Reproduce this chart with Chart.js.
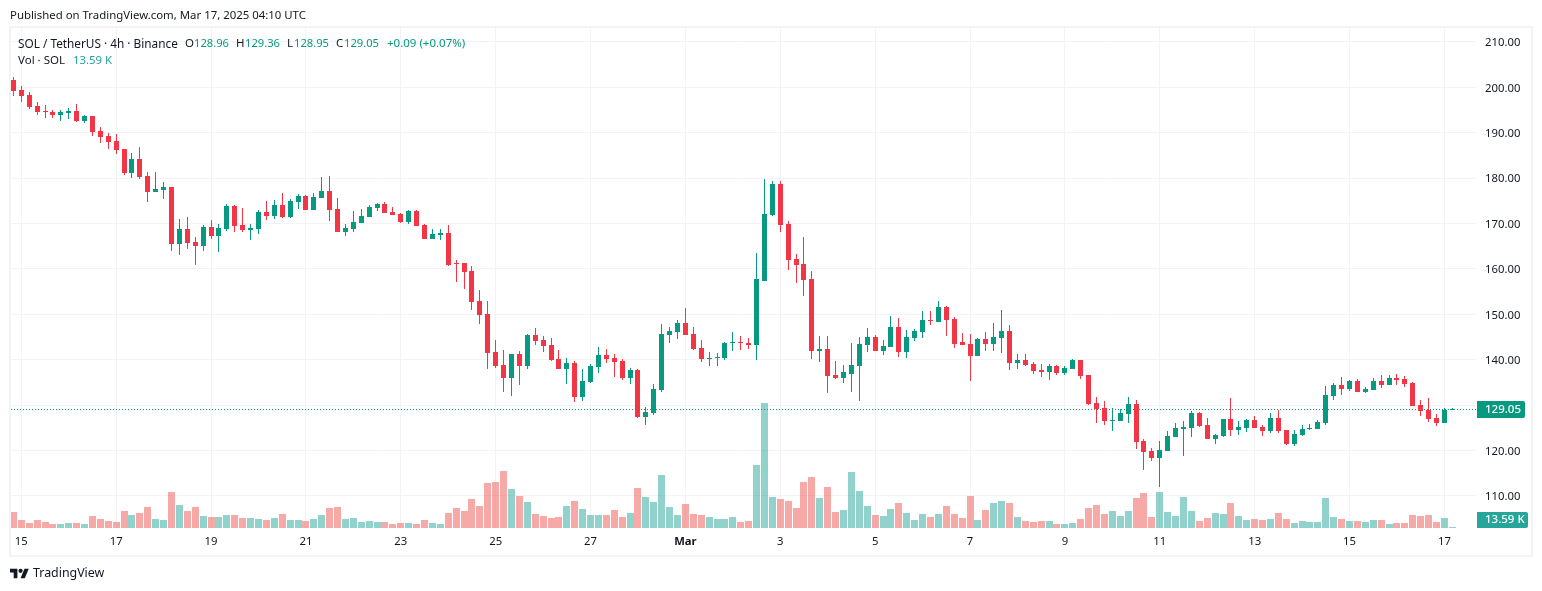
<!DOCTYPE html>
<html>
<head>
<meta charset="utf-8">
<title>SOL / TetherUS</title>
<script src="https://cdn.jsdelivr.net/npm/chart.js@4/dist/chart.umd.min.js"></script>
<style>
  html, body { margin: 0; padding: 0; background: #fff; }
  body { width: 1542px; height: 591px; position: relative; overflow: hidden; font-family: "Noto Sans", sans-serif; font-size: 11.5px; color: #131722; }
  #frame { position: absolute; left: 9px; top: 26px; width: 1520px; height: 527px; border: 2px solid #f2f3f5; }
  canvas { position: absolute; left: 0; top: 0; }
  .txt { position: absolute; white-space: nowrap; line-height: 16px; }
  .up { color: #089981; font-size: 11.2px; }
  .vol { color: #26a69a; font-size: 11.4px; }
  #logo { position: absolute; left: 10px; top: 568px; }
</style>
</head>
<body>
<div id="frame"></div>
<canvas id="chart" width="1542" height="591"></canvas>

<div class="txt" style="left:10px;top:7px;font-size:11.4px">Published on TradingView.com, Mar 17, 2025 04:10 UTC</div>
<div class="txt" style="left:18px;top:35px;font-size:11.8px">SOL / TetherUS · 4h · Binance</div>
<div class="txt" style="left:185px;top:35px">O</div><div class="txt up" style="left:194px;top:35px">128.96</div>
<div class="txt" style="left:236px;top:35px">H</div><div class="txt up" style="left:245px;top:35px">129.36</div>
<div class="txt" style="left:287px;top:35px">L</div><div class="txt up" style="left:294px;top:35px">128.95</div>
<div class="txt" style="left:336px;top:35px">C</div><div class="txt up" style="left:344px;top:35px">129.05</div>
<div class="txt up" style="left:387px;top:35px;font-size:11.5px">+0.09 (+0.07%)</div>
<div class="txt" style="left:18px;top:52px">Vol · SOL</div>
<div class="txt vol" style="left:73px;top:52px">13.59 K</div>

<svg id="logo" width="19" height="11" viewBox="0 4 36 18"><path fill="#131722" d="M14 22H7V11H0V4h14v18zM28 22h-8l7.5-18h8L28 22z"/><circle fill="#131722" cx="20" cy="8" r="4"/></svg>
<div class="txt" style="left:33px;top:565px;font-size:12.4px">TradingView</div>

<script>
// 4h candles, first one is Feb 14 20:00
var opens = [
  201.61,199.41,198.31,195.9,194.8,194.58,193.92,194.36,194.8,192.6,
  193.7,190.4,189.3,188.2,186.44,181.16,184.24,180.5,176.98,177.42,
  178.08,165.55,168.85,165.99,165.11,169.29,167.31,168.85,173.91,169.73,
  168.63,168.85,172.59,171.71,174.13,171.49,174.78,176.1,173.03,175.66,
  177.2,173.25,168.19,168.85,170.17,171.49,173.47,174.34,172.59,172.15,
  170.39,172.81,169.73,166.65,167.53,167.97,161.23,161.23,159.46,152.83,
  150.17,141.77,138.9,136.02,141.33,138.68,145.53,144.43,143.32,140.22,
  138.01,139.34,131.82,135.14,138.46,141.11,140.45,139.78,136.02,137.79,
  127.4,128.29,133.37,145.53,146.2,148.18,145.75,142.66,140.22,140.45,
  140.45,143.76,143.98,143.76,143.32,157.42,171.94,178.75,169.96,162.26,
  161.16,157.86,141.81,142.25,136.53,135.87,136.75,138.51,143.13,144.89,
  141.81,142.69,147.31,141.59,144.67,146.21,148.85,148.41,151.71,149.07,
  143.79,143.35,140.71,144.45,143.35,144.67,146.43,139.17,139.83,138.95,
  137.63,137.19,138.51,136.97,137.87,139.85,136.55,130.37,129.27,126.4,
  126.4,127.95,130.15,121.99,119.79,118.24,119.79,122.87,124.64,124.86,
  128.17,125.52,122.43,123.09,126.84,124.42,124.86,126.62,125.08,124.2,
  127.06,124.42,121.33,123.32,124.64,124.64,125.96,131.91,134.34,133.46,
  135.22,132.8,133.24,135.22,134.34,135.88,135.66,134.78,129.93,128.83,
  127.06,125.96,128.96
];
var highs = [
  202.27,200.29,198.97,196.77,196.11,195.02,195.02,195.46,196.34,193.92,
  193.7,191.28,189.96,189.74,186.44,185.56,186.88,181.38,181.38,179.18,
  178.08,171.05,171.49,167.09,169.73,170.83,169.95,174.34,174.13,173.47,
  169.95,173.03,175.0,175.22,176.76,175.44,176.54,176.32,176.76,180.28,
  180.5,175.66,169.95,172.81,173.25,174.13,174.56,174.78,173.69,172.37,
  173.03,173.03,169.95,168.85,168.85,169.73,161.89,161.23,160.57,155.26,
  152.83,144.43,142.21,141.33,141.99,145.75,147.08,145.31,144.87,142.21,
  140.45,139.78,138.01,139.12,142.88,142.44,141.33,140.22,138.24,138.01,
  129.61,134.7,147.96,147.3,148.85,151.28,147.3,144.43,141.77,141.55,
  143.98,146.2,145.31,144.87,163.44,179.85,179.41,179.41,170.62,163.36,
  167.1,159.62,145.11,145.11,139.61,138.73,143.57,144.89,147.09,145.55,
  144.23,149.73,149.29,146.65,146.87,150.83,150.83,153.03,151.93,149.51,
  145.99,145.77,144.67,146.21,148.19,151.05,147.75,141.15,141.15,139.39,
  138.95,138.95,138.73,138.51,140.07,139.85,136.55,131.69,130.81,129.27,
  129.05,131.69,131.03,122.43,120.45,121.99,124.2,125.96,126.4,128.61,
  128.39,127.06,123.54,126.84,131.47,126.4,126.84,127.5,125.52,128.17,
  128.83,124.42,124.42,125.52,125.74,126.62,134.12,134.78,136.1,135.44,
  135.66,133.9,135.88,136.55,136.55,136.77,136.33,135.0,131.03,131.47,
  127.95,129.27,129.36
];
var lows = [
  198.09,196.77,195.24,193.92,193.26,193.26,192.6,193.04,192.38,192.16,
  189.3,187.76,186.44,185.34,180.72,180.06,179.84,174.78,176.98,175.44,
  164.01,163.13,164.45,160.93,164.01,166.65,163.79,168.41,168.19,168.19,
  166.43,167.75,170.83,171.05,171.27,171.27,173.25,173.03,173.03,175.66,
  170.61,168.19,167.31,168.19,170.17,171.49,172.81,172.37,171.93,170.17,
  169.95,169.51,166.65,166.65,166.43,160.71,157.03,155.48,150.84,147.96,
  138.01,138.24,132.93,132.04,134.48,138.01,143.32,141.77,139.78,138.01,
  134.7,130.72,130.94,134.92,137.13,139.34,136.25,135.58,134.7,127.18,
  125.63,127.84,132.93,143.76,144.65,145.53,142.21,139.56,138.68,138.68,
  140.0,141.99,142.21,142.44,140.0,157.42,171.72,168.2,159.84,156.98,
  154.13,140.05,139.39,132.57,135.65,134.77,132.79,130.82,141.59,141.81,
  140.93,142.69,140.49,140.27,144.01,144.67,147.75,148.41,145.11,142.47,
  143.13,135.21,140.71,141.81,141.81,141.37,137.63,137.85,138.51,136.75,
  136.09,135.43,136.53,136.53,137.87,135.66,129.93,125.96,125.52,124.2,
  126.4,125.96,120.23,115.6,117.58,112.07,119.79,122.87,118.69,122.87,
  125.08,122.43,121.33,122.87,123.09,123.32,123.98,124.86,123.09,123.76,
  123.76,121.11,120.89,123.09,124.42,124.64,125.52,131.03,132.14,133.02,
  132.8,132.58,133.24,133.68,134.34,134.34,133.9,129.71,127.5,126.18,
  125.3,125.96,128.95
];
var closes = [
  199.19,198.09,195.68,194.58,194.58,193.92,194.58,194.8,192.6,193.7,
  190.18,189.08,187.98,186.22,181.16,184.24,180.28,176.98,177.64,178.08,
  165.55,168.85,165.77,165.11,169.29,167.31,169.07,173.91,169.51,168.63,
  169.07,172.59,171.71,174.13,171.49,175.0,176.1,173.03,175.88,177.2,
  173.03,168.19,169.07,170.39,171.71,173.69,174.34,172.37,171.93,170.39,
  172.81,169.51,166.65,167.75,167.97,160.93,161.01,159.24,152.61,149.95,
  141.55,138.68,136.02,141.33,138.68,145.53,144.2,143.1,140.0,138.01,
  139.34,131.82,135.36,138.68,141.11,140.22,139.56,136.02,137.79,127.4,
  128.51,133.59,145.75,146.42,148.18,145.53,142.44,140.22,140.45,140.67,
  143.76,143.98,143.76,143.32,157.69,172.16,178.75,169.74,162.04,160.94,
  157.64,141.81,142.25,136.31,135.87,137.19,138.73,143.35,144.89,141.81,
  142.91,147.31,141.59,144.89,146.43,148.85,148.63,151.71,148.85,143.35,
  143.13,140.71,144.45,143.35,144.89,146.43,139.17,139.83,138.73,137.41,
  137.19,138.51,136.97,138.07,139.85,136.33,130.15,129.05,126.4,126.62,
  128.17,130.15,121.77,119.57,118.24,120.01,123.09,124.86,125.08,128.17,
  125.3,122.43,123.32,126.84,124.42,125.08,126.62,124.86,124.2,127.06,
  124.2,121.33,123.54,124.64,124.86,126.18,132.14,134.34,133.46,135.22,
  132.8,133.46,135.22,134.34,135.88,135.44,134.56,129.71,128.61,126.84,
  125.96,128.87,129.05
];
// volume in thousands of SOL
var volumes = [
  217,109,68,109,82,54,54,68,68,54,
  163,122,95,82,231,177,204,285,122,109,
  489,313,231,285,163,149,149,177,177,136,
  136,122,109,136,190,109,109,95,122,177,
  272,285,122,136,82,95,82,82,54,68,
  68,54,109,68,54,204,272,231,394,299,
  612,625,775,530,435,353,190,163,136,149,
  299,367,258,177,177,177,245,149,204,544,
  421,353,720,285,177,326,190,177,149,122,
  122,149,82,95,856,1699,421,394,367,272,
  625,693,408,557,217,245,761,503,299,177,
  163,258,340,204,109,190,149,190,299,190,
  136,435,109,245,340,367,340,149,95,82,
  95,95,54,54,68,122,272,313,190,231,
  163,231,408,476,149,489,217,163,421,231,
  95,136,204,190,340,163,109,122,109,122,
  204,122,68,95,82,82,408,149,122,95,
  95,82,109,109,54,68,68,177,163,177,
  82,136,13.59
];
var tickCandles = [1,13,25,37,49,61,73,85,97,109,121,133,145,157,169,181];
var tickLabels = ['15','17','19','21','23','25','27','Mar','3','5','7','9','11','13','15','17'];
var priceTicks = [110,120,130,140,150,160,170,180,190,200,210];

var UP = '#089981', DOWN = '#f23645';
var VOL_UP = 'rgba(38,166,154,0.5)', VOL_DOWN = 'rgba(239,83,80,0.5)';
var FONT = '"Noto Sans", sans-serif';
var lastClose = closes[closes.length - 1];
var lastVolume = volumes[volumes.length - 1];

var wickData = [], bodyData = [], volData = [], bodyColors = [], volColors = [];
for (var i = 0; i < opens.length; i++) {
  var isUp = closes[i] >= opens[i];
  wickData.push({ x: i, y: [lows[i], highs[i]] });
  bodyData.push({ x: i, y: [opens[i], closes[i]] });
  volData.push({ x: i, y: volumes[i] });
  bodyColors.push(isUp ? UP : DOWN);
  volColors.push(isUp ? VOL_UP : VOL_DOWN);
}

// keeps thin bars crisp, TradingView snaps candles to whole pixels
var snapBars = {
  id: 'snapBars',
  beforeDatasetsDraw: function(chart) {
    chart.data.datasets.forEach(function(ds, n) {
      chart.getDatasetMeta(n).data.forEach(function(el) {
        el.x = Math.floor(el.x) + 0.5;
        el.y = Math.round(el.y);
        el.base = Math.round(el.base);
      });
    });
  }
};

var priceLine = {
  id: 'priceLine',
  beforeDatasetDraw: function(chart, args) {
    if (args.index !== 1) return;
    var ctx = chart.ctx, area = chart.chartArea;
    var y = Math.round(chart.scales.y.getPixelForValue(lastClose)) + 0.5;
    ctx.save();
    ctx.strokeStyle = UP;
    ctx.lineWidth = 1;
    ctx.setLineDash([1, 2]);
    ctx.beginPath();
    ctx.moveTo(area.left, y);
    ctx.lineTo(area.right, y);
    ctx.stroke();
    ctx.restore();
  },
  afterDraw: function(chart) {
    var ctx = chart.ctx, area = chart.chartArea;
    var y = Math.round(chart.scales.y.getPixelForValue(lastClose));
    ctx.save();
    ctx.textBaseline = 'middle';
    ctx.textAlign = 'left';
    ctx.fillStyle = UP;
    ctx.beginPath();
    ctx.roundRect(area.right + 1, y - 8, 48, 17, [0, 2, 2, 0]);
    ctx.fill();
    ctx.fillStyle = '#26a69a';
    ctx.beginPath();
    ctx.roundRect(area.right + 1, area.bottom - 16, 51, 16, [0, 2, 2, 0]);
    ctx.fill();
    ctx.fillStyle = '#fff';
    ctx.font = '500 11.5px ' + FONT;
    ctx.fillText(lastClose.toFixed(2), area.right + 9, y + 1);
    ctx.fillText(lastVolume.toFixed(2) + ' K', area.right + 9, area.bottom - 8);
    ctx.restore();
  }
};

var chart = new Chart(document.getElementById('chart'), {
  type: 'bar',
  data: {
    datasets: [
      { data: volData, yAxisID: 'yVol', backgroundColor: volColors, barThickness: 7, grouped: false, order: 3, inflateAmount: 0 },
      { data: wickData, yAxisID: 'y', backgroundColor: bodyColors, barThickness: 1, grouped: false, order: 2, inflateAmount: 0 },
      { data: bodyData, yAxisID: 'y', backgroundColor: bodyColors, barThickness: 5, grouped: false, order: 1, inflateAmount: 0 }
    ]
  },
  options: {
    responsive: false,
    animation: false,
    events: [],
    layout: { padding: { left: 11, top: 28, right: 10, bottom: 35 } },
    plugins: { legend: { display: false }, tooltip: { enabled: false } },
    scales: {
      x: {
        type: 'linear',
        min: -0.304,
        max: 185.0,
        offset: false,
        afterBuildTicks: function(scale) {
          scale.ticks = tickCandles.map(function(v) { return { value: v }; });
        },
        afterFit: function(scale) { scale.height = 28; },
        grid: { color: '#f3f3f5', offset: false, drawTicks: false },
        border: { display: false },
        ticks: {
          autoSkip: false,
          maxRotation: 0,
          padding: 7,
          color: '#131722',
          font: function(ctx) {
            return { family: FONT, size: 11.3, weight: ctx.tick && ctx.tick.value === 85 ? 'bold' : 'normal' };
          },
          callback: function(value) { return tickLabels[tickCandles.indexOf(value)]; }
        }
      },
      y: {
        position: 'right',
        min: 102.93,
        max: 213.06,
        afterBuildTicks: function(scale) {
          scale.ticks = priceTicks.map(function(v) { return { value: v }; });
        },
        afterFit: function(scale) { scale.width = 56; },
        grid: { color: '#f3f3f5', drawTicks: false },
        border: { display: false },
        ticks: {
          padding: 9,
          labelOffset: 1,
          color: '#131722',
          font: { family: FONT, size: 11.3 },
          // the last price tag sits over the nearest label
          callback: function(value) { return Math.abs(value - lastClose) < 2 ? '' : value.toFixed(2); }
        }
      },
      yVol: { display: false, min: 0, max: 6796 }
    }
  },
  plugins: [snapBars, priceLine]
});
</script>
</body>
</html>
